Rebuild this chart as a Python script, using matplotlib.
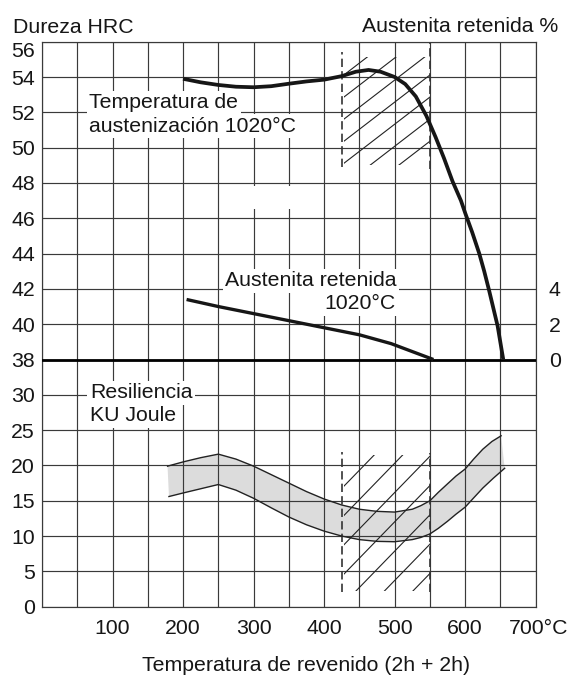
import numpy as np
import matplotlib
matplotlib.use('Agg')
import matplotlib.pyplot as plt
from matplotlib.patches import Rectangle
from matplotlib.transforms import ScaledTranslation

plt.rcParams['font.family'] = ['Liberation Sans', 'DejaVu Sans']

# ---------------- data ----------------
# Hardness HRC after tempering (austenitised at 1020 °C)
hard_temp = [200, 225, 250, 275, 300, 325, 350, 375, 400, 425, 445, 463, 480, 500,
             515, 530, 545, 558, 570, 582, 594, 600, 610, 620, 627, 634, 640, 646, 654]
hard_hrc = [53.9, 53.7, 53.55, 53.45, 53.42, 53.48, 53.62, 53.75, 53.85, 54.05, 54.3,
            54.4, 54.3, 54.0, 53.6, 52.9, 51.8, 50.6, 49.4, 48.1, 47.0, 46.3, 45.2,
            44.0, 43.0, 41.9, 40.9, 39.9, 38.0]

# Retained austenite %
aus_temp = [205, 250, 300, 350, 400, 450, 495, 555]
aus_pct = [3.4, 3.0, 2.6, 2.2, 1.8, 1.4, 0.9, 0.0]

# Impact energy KU (Joule) scatter band
ku_hi_temp = [178, 200, 225, 250, 275, 300, 325, 350, 375, 400, 425, 450, 475, 500,
              525, 537, 550, 562, 575, 587, 600, 612, 625, 638, 651]
ku_hi = [19.9, 20.5, 21.1, 21.6, 20.9, 19.9, 18.7, 17.5, 16.3, 15.25, 14.4, 13.8,
         13.5, 13.4, 13.8, 14.3, 15.0, 16.2, 17.4, 18.5, 19.5, 20.9, 22.3, 23.4, 24.2]
ku_lo_temp = [180, 200, 225, 250, 275, 300, 325, 350, 375, 400, 425, 450, 475, 500,
              525, 537, 550, 562, 575, 587, 600, 612, 625, 640, 656]
ku_lo = [15.6, 16.1, 16.7, 17.3, 16.5, 15.35, 14.0, 12.7, 11.6, 10.7, 10.0, 9.5,
         9.25, 9.2, 9.5, 9.8, 10.3, 11.1, 12.1, 13.1, 14.1, 15.4, 16.8, 18.2, 19.6]

# recommended tempering range (°C)
temper_range = [425, 550]

# tick labels
x_ticks = [100, 200, 300, 400, 500, 600, 700]
x_tick_labels = ['100', '200', '300', '400', '500', '600', '700°C']
ku_ticks = [0, 5, 10, 15, 20, 25, 30]
hrc_ticks = [38, 40, 42, 44, 46, 48, 50, 52, 54, 56]
aus_ticks = [0, 2, 4]


# composite vertical scale: one grid row = 5 J (lower), 2 HRC / 2 % (upper)
def ku_row(v):
    return np.asarray(v, dtype=float) / 5.0


def hrc_row(v):
    return 7 + (np.asarray(v, dtype=float) - 38) / 2.0


def aus_row(v):
    return 7 + np.asarray(v, dtype=float) / 2.0


FS = 15.3
INK = '#161616'
GRID = '#3a3a3a'

fig = plt.figure(figsize=(5.7, 6.75), dpi=100)
ax = fig.add_axes([42 / 570, 1 - 606.7 / 675, (535.7 - 42) / 570, (606.7 - 41.7) / 675])
ax.set_xlim(0, 700)
ax.set_ylim(0, 16)

# grid via ticks
xt = np.arange(0, 701, 50)
ax.set_xticks(xt)
ax.set_xticklabels([x_tick_labels[x_ticks.index(v)] if v in x_ticks else '' for v in xt])
yt = list(ku_row(ku_ticks)) + list(hrc_row(hrc_ticks))
ax.set_yticks(yt)
ax.set_yticklabels([str(v) for v in ku_ticks] + [str(v) for v in hrc_ticks])
ax.tick_params(axis='both', length=0, labelsize=FS, colors=INK)
ax.tick_params(axis='y', pad=5)
ax.tick_params(axis='x', pad=9)
ax.grid(True, color=GRID, lw=0.85)
ax.set_axisbelow('line')
for s in ax.spines.values():
    s.set_color(GRID)
    s.set_linewidth(0.85)

# top label "56" sits a bit lower in the reference
lbl56 = ax.get_yticklabels()[-1]
lbl56.set_transform(lbl56.get_transform() + ScaledTranslation(0, -8 / 100, fig.dpi_scale_trans))
# "700°C" is centred slightly right of its grid line
lbl700 = ax.get_xticklabels()[-1]
lbl700.set_transform(lbl700.get_transform() + ScaledTranslation(3 / 100, 0, fig.dpi_scale_trans))

# right axis: retained austenite %
ax2 = ax.twinx()
ax2.set_ylim(0, 16)
ax2.set_yticks(aus_row(aus_ticks))
ax2.set_yticklabels([str(v) for v in aus_ticks])
ax2.tick_params(length=0, labelsize=FS, pad=9.5, colors=INK)
for s in ax2.spines.values():
    s.set_visible(False)

# impact-energy band
band_x = list(ku_hi_temp) + list(ku_lo_temp[::-1])
band_y = list(ku_row(ku_hi)) + list(ku_row(ku_lo[::-1]))
ax.fill(band_x, band_y, color='#dcdcdc', lw=0, zorder=1)
ax.plot(ku_hi_temp, ku_row(ku_hi), color='#222222', lw=1.0, zorder=3)
ax.plot(ku_lo_temp, ku_row(ku_lo), color='#222222', lw=1.0, zorder=3)

# baseline 38 HRC / 0 %
ax.axhline(hrc_row(38), color='black', lw=2.0, zorder=3)

# hardness and retained austenite curves
ax.plot(hard_temp, hrc_row(hard_hrc), color=INK, lw=2.7, zorder=4,
        solid_capstyle='butt', solid_joinstyle='round')
ax.plot(aus_temp, aus_row(aus_pct), color=INK, lw=2.4, zorder=4,
        solid_capstyle='butt', solid_joinstyle='round')


# hatched tempering zones
def hatch_zone(r0, r1, c0, step, slope, n):
    x0, x1 = temper_range
    clip = Rectangle((x0 + 3, r0), x1 - x0 - 3, r1 - r0, transform=ax.transData)
    for k in range(n):
        c = c0 - k * step
        xs = np.array([x0 - 60, x1 + 60])
        ln, = ax.plot(xs, c + slope * (xs - x0), color='#222222', lw=0.8, zorder=2)
        ln.set_clip_path(clip)


hatch_zone(12.51, 15.57, 15.01, 0.625, 0.01537, 7)
hatch_zone(0.445, 4.30, 3.35, 0.83, 0.02056, 7)

dash = dict(color='#333333', lw=1.2, ls=(0, (5, 2.5)), zorder=2.5)
ax.plot([temper_range[0]] * 2, [12.46, 15.72], **dash)
ax.plot([temper_range[1]] * 2, [12.40, 15.95], **dash)
ax.plot([temper_range[0]] * 2, [0.42, 4.39], **dash)
ax.plot([temper_range[1]] * 2, [0.42, 4.35], **dash)

# small blank patch present in the reference grid
ax.add_patch(Rectangle((297, 11.26), 56, 0.65, fc='white', ec='none', zorder=1.8))

# annotations
box = dict(fc='white', ec='none', boxstyle='square,pad=0.12')
tk = dict(fontsize=FS, color=INK, va='baseline', bbox=box, zorder=5)
ax.text(67, 14.11, 'Temperatura de', ha='left', **tk)
ax.text(67, 13.45, 'austenización 1020°C', ha='left', **tk)
ax.text(503, 9.08, 'Austenita retenida', ha='right', **tk)
ax.text(502, 8.42, '1020°C', ha='right', **tk)
ax.text(68, 5.90, 'Resiliencia', ha='left', **tk)
ax.text(68, 5.26, 'KU Joule', ha='left', **tk)

fig.text(12.7 / 570, 1 - 32.7 / 675, 'Dureza HRC', ha='left', va='baseline', fontsize=FS, color=INK)
fig.text(558.3 / 570, 1 - 31.7 / 675, 'Austenita retenida %', ha='right', va='baseline', fontsize=FS, color=INK)
fig.text(306 / 570, 1 - 671 / 675, 'Temperatura de revenido (2h + 2h)', ha='center', va='baseline',
         fontsize=FS, color=INK)

fig.savefig('out.png', dpi=100, facecolor='white')
